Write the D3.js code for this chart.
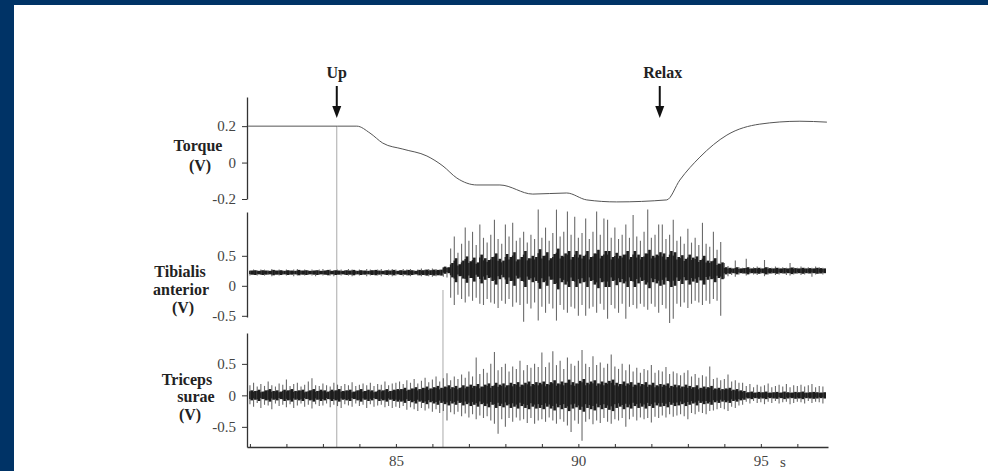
<!DOCTYPE html>
<html lang="en">
<head>
<meta charset="UTF-8">
<script src="https://cdn.jsdelivr.net/npm/d3@7"></script>
<title>Torque and EMG</title>
<style>
    body { margin: 0; background: #003366; }
    svg { display: block; }
    .lab { font-family: "Liberation Serif", "DejaVu Serif", serif; font-weight: bold; font-size: 16px; fill: #222; }
    .tick text { font-family: "Liberation Serif", serif; font-size: 15px; fill: #444; }
    .axis path, .axis line { stroke: #333; }
</style>
</head>
<body>
<svg id="fig" width="988" height="471"></svg>
<script>
    /*------------------- data -----------------------------------------*/
    // torque trace (s, V)
    const torqueT = [80.95, 83.4, 83.93, 84.29, 84.64, 85.19, 85.85, 86.29, 86.67, 87.22, 87.85, 88.75, 89.68, 90.23, 91.05, 92.42, 92.78, 93.33, 94.07, 94.97, 96.07, 96.81];
    const torqueV = [0.2, 0.2, 0.2, 0.162, 0.107, 0.074, 0.036, -0.019, -0.085, -0.123, -0.123, -0.173, -0.167, -0.205, -0.216, -0.205, -0.096, 0.030, 0.151, 0.211, 0.227, 0.222];

    // markers
    const eventLabels = ["Up", "Relax"];
    const eventTimes = [83.38, 92.23];
    const onsetTA = 86.29;

    // EMG peaks, one value per 0.1 s starting at 81.0 s
    const emgStart = 81.0, emgStep = 0.1;
    const taHi = [0.26,0.27,0.26,0.27,0.27,0.26,0.28,0.26,0.27,0.26, 0.27,0.26,0.27,0.28,0.26,0.27,0.26,0.27,0.26,0.27,
        0.28,0.26,0.27,0.26,0.27,0.27,0.26,0.28,0.27,0.26, 0.27,0.26,0.28,0.27,0.26,0.27,0.28,0.26,0.27,0.28,
        0.27,0.26,0.28,0.27,0.28,0.26,0.27,0.29,0.27,0.28, 0.29,0.28,0.27,0.29,0.30,
        0.62,0.82,0.55,0.7,0.97,0.75,0.9,0.68,1.02,0.8, 0.72,0.85,1.1,0.78,0.7,1.02,0.82,1.05,0.75,0.8,
        0.9,0.72,0.85,0.78,1.27,0.8,0.97,0.75,0.88,1.27, 0.82,0.9,1.24,0.85,1.15,0.8,0.88,1.12,0.78,0.9,
        1.24,0.85,1.12,1.1,0.8,0.97,0.78,0.85,1.02,0.8, 1.18,0.82,0.75,0.9,1.27,0.8,0.85,1.02,1.02,0.78,
        0.85,1.1,0.75,0.82,0.7,0.95,0.72,0.8,0.68,1.05, 0.7,0.65,0.9,0.6,0.73,
        0.38,0.33,0.3,0.42,0.31,0.3,0.45,0.3,0.31,0.32, 0.3,0.43,0.31,0.3,0.32,0.3,0.31,0.3,0.38,0.31,
        0.3,0.32,0.3,0.31,0.3,0.32,0.31,0.3];
    const taLo = [0.17,0.18,0.17,0.18,0.17,0.18,0.16,0.18,0.17,0.18, 0.17,0.18,0.16,0.17,0.18,0.17,0.18,0.17,0.16,0.18,
        0.17,0.18,0.17,0.16,0.18,0.17,0.18,0.17,0.16,0.18, 0.17,0.18,0.16,0.17,0.18,0.17,0.16,0.18,0.17,0.16,
        0.17,0.18,0.16,0.17,0.16,0.18,0.17,0.16,0.17,0.16, 0.15,0.16,0.17,0.15,0.14,
        -0.2,-0.32,-0.15,-0.22,-0.28,-0.18,-0.25,-0.2,-0.3,-0.32, -0.22,-0.28,-0.3,-0.37,-0.25,-0.3,-0.22,-0.35,-0.28,-0.32,
        -0.6,-0.3,-0.38,-0.28,-0.58,-0.35,-0.45,-0.3,-0.38,-0.58, -0.32,-0.4,-0.45,-0.35,-0.38,-0.5,-0.32,-0.5,-0.38,-0.35,
        -0.45,-0.3,-0.4,-0.55,-0.32,-0.38,-0.45,-0.3,-0.55,-0.35, -0.32,-0.38,-0.3,-0.35,-0.4,-0.3,-0.35,-0.45,-0.32,-0.38,
        -0.62,-0.55,-0.3,-0.35,-0.28,-0.37,-0.3,-0.25,-0.28,-0.32, -0.25,-0.3,-0.22,-0.25,-0.5,
        0.12,0.16,0.18,0.15,0.19,0.2,0.17,0.2,0.19,0.18, 0.2,0.16,0.19,0.2,0.18,0.19,0.2,0.18,0.17,0.19,
        0.2,0.18,0.19,0.2,0.15,0.19,0.2,0.19];
    // half width of the dense dark band
    const taIn = [0.035,0.04,0.03,0.04,0.035,0.03,0.045,0.035,0.04,0.03, 0.04,0.035,0.03,0.045,0.035,0.04,0.03,0.035,0.04,0.03,
        0.035,0.045,0.03,0.04,0.035,0.03,0.04,0.035,0.045,0.03, 0.04,0.035,0.03,0.04,0.045,0.035,0.03,0.04,0.035,0.045,
        0.03,0.04,0.035,0.045,0.04,0.03,0.045,0.04,0.05,0.04, 0.05,0.045,0.05,0.06,0.05,
        0.12,0.2,0.1,0.15,0.22,0.14,0.2,0.12,0.24,0.18, 0.15,0.2,0.26,0.17,0.14,0.25,0.2,0.28,0.16,0.2,
        0.3,0.18,0.22,0.2,0.33,0.22,0.28,0.18,0.25,0.34, 0.22,0.26,0.3,0.2,0.3,0.24,0.22,0.3,0.2,0.26,
        0.32,0.22,0.3,0.3,0.2,0.27,0.22,0.24,0.3,0.2, 0.3,0.24,0.2,0.26,0.32,0.22,0.24,0.28,0.26,0.2,
        0.3,0.28,0.2,0.24,0.18,0.25,0.2,0.22,0.17,0.24, 0.16,0.15,0.2,0.12,0.14,
        0.06,0.05,0.04,0.06,0.04,0.045,0.06,0.04,0.045,0.05, 0.04,0.06,0.045,0.04,0.05,0.04,0.045,0.04,0.055,0.045,
        0.04,0.05,0.04,0.045,0.04,0.05,0.045,0.04];

    const tsHi = [0.16,0.2,0.14,0.18,0.15,0.22,0.16,0.14,0.19,0.17, 0.25,0.15,0.18,0.2,0.14,0.17,0.22,0.27,0.16,0.15,
        0.19,0.16,0.14,0.2,0.17,0.15,0.18,0.16,0.21,0.15, 0.17,0.19,0.16,0.2,0.15,0.18,0.17,0.22,0.16,0.19, 0.2,
        0.22,0.18,0.24,0.2,0.26,0.19,0.23,0.28,0.21,0.25, 0.3,0.22,0.27,0.35,0.24,0.3,0.26,0.33,0.28,0.38,
        0.3,0.6,0.34,0.42,0.36,0.5,0.69,0.4,0.45,0.5, 0.38,0.46,0.42,0.55,0.4,0.48,0.44,0.5,0.45,
        0.68,0.45,0.52,0.7,0.48,0.55,0.42,0.6,0.5,0.47, 0.55,0.72,0.5,0.45,0.62,0.48,0.52,0.44,0.5,0.65,
        0.46,0.42,0.5,0.4,0.49,0.38,0.44,0.36,0.42,0.4, 0.48,0.36,0.4,0.38,0.45,0.34,0.38,0.35,0.32,0.36,
        0.4,0.3,0.34,0.28,0.32,0.3,0.46,0.26,0.28,0.24, 0.26,0.33,0.22,0.24,0.2,0.2,
        0.15,0.18,0.13,0.17,0.14,0.16,0.19,0.13,0.15,0.17, 0.14,0.18,0.13,0.16,0.15,0.17,0.14,0.16,0.18,0.13, 0.15,0.14];
    const tsLo = [-0.14,-0.18,-0.12,-0.2,-0.15,-0.16,-0.22,-0.13,-0.17,-0.15, -0.19,-0.14,-0.2,-0.16,-0.13,-0.18,-0.15,-0.21,-0.14,-0.17,
        -0.16,-0.13,-0.19,-0.15,-0.17,-0.2,-0.14,-0.16,-0.18,-0.13, -0.17,-0.15,-0.2,-0.14,-0.18,-0.16,-0.15,-0.19,-0.17,-0.2, -0.18,
        -0.2,-0.17,-0.23,-0.19,-0.22,-0.25,-0.2,-0.24,-0.21,-0.26, -0.22,-0.28,-0.25,-0.4,-0.27,-0.3,-0.26,-0.33,-0.29,-0.35,
        -0.3,-0.38,-0.32,-0.36,-0.33,-0.4,-0.45,-0.61,-0.38,-0.5, -0.36,-0.42,-0.35,-0.4,-0.38,-0.44,-0.36,-0.45,-0.4,
        -0.38,-0.42,-0.35,-0.4,-0.45,-0.38,-0.42,-0.48,-0.58,-0.4, -0.45,-0.72,-0.42,-0.38,-0.46,-0.4,-0.44,-0.36,-0.42,-0.45,
        -0.38,-0.4,-0.36,-0.5,-0.38,-0.34,-0.4,-0.35,-0.38,-0.36, -0.43,-0.34,-0.36,-0.32,-0.35,-0.3,-0.34,-0.32,-0.3,-0.33,
        -0.38,-0.28,-0.3,-0.26,-0.28,-0.3,-0.25,-0.24,-0.22,-0.2, -0.22,-0.25,-0.18,-0.2,-0.16,-0.15,
        -0.1,-0.13,-0.09,-0.12,-0.11,-0.14,-0.1,-0.12,-0.09,-0.13, -0.11,-0.1,-0.14,-0.12,-0.1,-0.11,-0.13,-0.09,-0.12,-0.1, -0.11,-0.13];
    const tsIn = [0.08,0.07,0.09,0.06,0.08,0.1,0.07,0.08,0.06,0.09, 0.08,0.1,0.07,0.08,0.09,0.06,0.08,0.1,0.07,0.09,
        0.08,0.06,0.09,0.08,0.1,0.07,0.08,0.09,0.06,0.08, 0.1,0.07,0.09,0.08,0.06,0.09,0.08,0.1,0.07,0.09, 0.1,
        0.1,0.12,0.09,0.11,0.13,0.1,0.12,0.14,0.11,0.13, 0.15,0.12,0.14,0.16,0.13,0.15,0.12,0.16,0.14,0.17,
        0.15,0.18,0.14,0.17,0.19,0.15,0.2,0.17,0.19,0.16, 0.2,0.18,0.21,0.17,0.2,0.22,0.18,0.21,0.2,
        0.22,0.18,0.21,0.24,0.19,0.22,0.2,0.25,0.21,0.19, 0.23,0.26,0.2,0.22,0.24,0.19,0.22,0.2,0.23,0.25,
        0.2,0.18,0.22,0.19,0.21,0.17,0.2,0.18,0.21,0.17, 0.2,0.16,0.18,0.17,0.19,0.15,0.17,0.16,0.14,0.17,
        0.15,0.13,0.16,0.12,0.14,0.13,0.15,0.11,0.12,0.1, 0.11,0.12,0.09,0.1,0.08,0.07,
        0.05,0.06,0.045,0.055,0.05,0.06,0.045,0.05,0.055,0.045, 0.06,0.05,0.045,0.055,0.05,0.06,0.045,0.05,0.055,0.05, 0.045,0.05];

    // centre of the dark band, one value per 0.5 s starting at 81.0 s
    const midStep = 0.5;
    const taMid = [0.22,0.22,0.22,0.22,0.22,0.22,0.22,0.22,0.22,0.22,0.22,
        0.26,0.27,0.28,0.28,0.28,0.28,0.28,0.28,0.28,0.28,0.28,0.28,0.28,0.27,0.26,
        0.25,0.25,0.25,0.25,0.25,0.25];
    const tsMid = [0,0,0,0,0,0,0,0,0,0,0,0,0,0,0,0,0,0,0,0,0,0,0,0,0,0,0,0,0,0,0,0];

    const xTicks = [81, 82, 83, 84, 85, 86, 87, 88, 89, 90, 91, 92, 93, 94, 95, 96];
    const xLabels = [85, 90, 95];

    /*------------------- layout --------------------*/
    const W = 988, H = 471;
    const svg = d3.select("#fig");
    svg.append("rect").attr("x", 14).attr("y", 5).attr("width", W - 14).attr("height", H - 5).attr("fill", "#fff");

    const x = d3.scaleLinear().domain([80.92, 96.84]).range([247, 828]);
    const yTorque = d3.scaleLinear().domain([-0.2, 0.36]).range([199, 97]);
    const yTA = d3.scaleLinear().domain([-0.52, 1.23]).range([317, 212]);
    const yTS = d3.scaleLinear().domain([-0.82, 0.99]).range([447, 333]);

    const fmtV = d => d === 0 ? "0" : d3.format(".1f")(d).replace("\u2212", "-");

    // vertical guide lines
    svg.append("line").attr("x1", x(eventTimes[0])).attr("x2", x(eventTimes[0]))
        .attr("y1", yTorque(0.2)).attr("y2", 447).attr("stroke", "#aaa").attr("stroke-width", 1);
    svg.append("line").attr("x1", x(onsetTA)).attr("x2", x(onsetTA))
        .attr("y1", 290).attr("y2", 447).attr("stroke", "#aaa").attr("stroke-width", 1);

    // y axes
    function yAxis(scale, ticks) {
        const g = svg.append("g").attr("class", "axis").attr("transform", "translate(247,0)")
            .call(d3.axisLeft(scale).tickValues(ticks).tickSize(5).tickSizeOuter(0).tickFormat(fmtV));
        g.select(".domain").attr("stroke-width", 1.3);
        g.selectAll(".tick text").attr("dx", "-3");
        return g;
    }
    yAxis(yTorque, [-0.2, 0, 0.2]);
    yAxis(yTA, [-0.5, 0, 0.5]);
    yAxis(yTS, [-0.5, 0, 0.5]);

    // x axis
    const gx = svg.append("g").attr("class", "axis").attr("transform", "translate(0,447)")
        .call(d3.axisBottom(x).tickValues(xTicks).tickSize(-3).tickSizeOuter(0)
            .tickFormat(d => xLabels.includes(d) ? d : ""));
    gx.select(".domain").attr("stroke-width", 1.6);
    gx.selectAll(".tick text").attr("dy", "1.05em");
    svg.append("text").attr("x", x(95) + 22).attr("y", 467).attr("text-anchor", "middle")
        .style("font-family", "Liberation Serif, serif").style("font-size", "15px").attr("fill", "#444").text("s");

    // torque
    svg.append("path")
        .attr("d", d3.line().x((d, i) => x(torqueT[i])).y(d => yTorque(d)).curve(d3.curveMonotoneX)(torqueV))
        .attr("fill", "none").attr("stroke", "#555").attr("stroke-width", 1);

    // EMG channels
    function emg(y, hi, lo, inner, mid) {
        const g = svg.append("g");
        const tx = i => x(emgStart + i * emgStep);
        const midAt = i => mid[Math.min(mid.length - 1, Math.round(i * emgStep / midStep))];
        g.selectAll("line.spike").data(hi).join("line").attr("class", "spike")
            .attr("x1", (d, i) => tx(i)).attr("x2", (d, i) => tx(i))
            .attr("y1", (d, i) => y(lo[i])).attr("y2", d => y(d))
            .attr("stroke", "#3a3a3a").attr("stroke-width", 1.1).attr("opacity", 0.75);
        g.selectAll("line.core").data(inner).join("line").attr("class", "core")
            .attr("x1", (d, i) => tx(i) + 1.8).attr("x2", (d, i) => tx(i) + 1.8)
            .attr("y1", (d, i) => y(midAt(i) - d)).attr("y2", (d, i) => y(midAt(i) + d))
            .attr("stroke", "#1c1c1c").attr("stroke-width", 2.6);
        g.selectAll("line.core2").data(inner).join("line").attr("class", "core2")
            .attr("x1", (d, i) => tx(i)).attr("x2", (d, i) => tx(i))
            .attr("y1", (d, i) => y(midAt(i) - d * 0.7)).attr("y2", (d, i) => y(midAt(i) + d * 0.8))
            .attr("stroke", "#222").attr("stroke-width", 1.6);
    }
    emg(yTA, taHi, taLo, taIn, taMid);
    emg(yTS, tsHi, tsLo, tsIn, tsMid);

    // event arrows
    eventLabels.forEach((lab, i) => {
        const ex = x(eventTimes[i]);
        svg.append("text").attr("class", "lab").attr("x", ex + (i ? 3 : 0)).attr("y", 78)
            .attr("text-anchor", "middle").text(lab);
        svg.append("line").attr("x1", ex).attr("x2", ex).attr("y1", 86).attr("y2", 108)
            .attr("stroke", "#111").attr("stroke-width", 2);
        svg.append("path").attr("d", `M${ex - 4.5},106 L${ex + 4.5},106 L${ex},118 Z`).attr("fill", "#111");
    });

    // channel labels
    const labels = [
        ["Torque", 198, 151], ["(V)", 200, 171],
        ["Tibialis", 180, 277], ["anterior", 181, 295], ["(V)", 183, 313],
        ["Triceps", 187, 385], ["surae", 196, 402], ["(V)", 190, 420]
    ];
    labels.forEach(([t, lx, ly]) => {
        svg.append("text").attr("class", "lab").attr("x", lx).attr("y", ly).attr("text-anchor", "middle").text(t);
    });
</script>
</body>
</html>
